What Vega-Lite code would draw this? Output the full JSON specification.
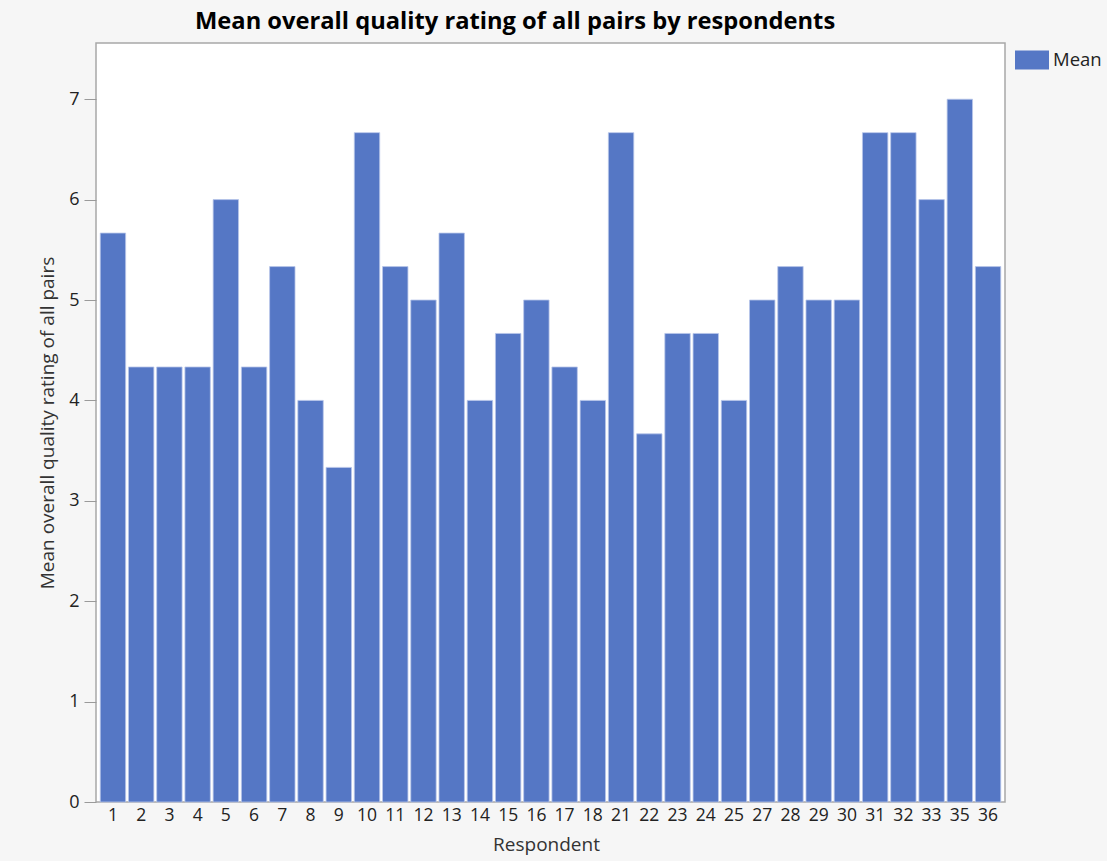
{
  "$schema": "https://vega.github.io/schema/vega-lite/v6.json",
  "autosize": {"type": "none"},
  "width": 909,
  "height": 759,
  "padding": {"left": 96, "top": 43, "right": 102, "bottom": 59},
  "background": "#f6f6f6",
  "title": {
    "text": "Mean overall quality rating of all pairs by respondents",
    "anchor": "start",
    "frame": "group",
    "dx": 99,
    "offset": 9,
    "font": "Open Sans",
    "fontSize": 23.7,
    "fontWeight": "bold",
    "color": "#000000"
  },
  "data": {
    "values": [
      {"Respondent": 1, "Mean": 5.667},
      {"Respondent": 2, "Mean": 4.333},
      {"Respondent": 3, "Mean": 4.333},
      {"Respondent": 4, "Mean": 4.333},
      {"Respondent": 5, "Mean": 6.0},
      {"Respondent": 6, "Mean": 4.333},
      {"Respondent": 7, "Mean": 5.333},
      {"Respondent": 8, "Mean": 4.0},
      {"Respondent": 9, "Mean": 3.333},
      {"Respondent": 10, "Mean": 6.667},
      {"Respondent": 11, "Mean": 5.333},
      {"Respondent": 12, "Mean": 5.0},
      {"Respondent": 13, "Mean": 5.667},
      {"Respondent": 14, "Mean": 4.0},
      {"Respondent": 15, "Mean": 4.667},
      {"Respondent": 16, "Mean": 5.0},
      {"Respondent": 17, "Mean": 4.333},
      {"Respondent": 18, "Mean": 4.0},
      {"Respondent": 21, "Mean": 6.667},
      {"Respondent": 22, "Mean": 3.667},
      {"Respondent": 23, "Mean": 4.667},
      {"Respondent": 24, "Mean": 4.667},
      {"Respondent": 25, "Mean": 4.0},
      {"Respondent": 27, "Mean": 5.0},
      {"Respondent": 28, "Mean": 5.333},
      {"Respondent": 29, "Mean": 5.0},
      {"Respondent": 30, "Mean": 5.0},
      {"Respondent": 31, "Mean": 6.667},
      {"Respondent": 32, "Mean": 6.667},
      {"Respondent": 33, "Mean": 6.0},
      {"Respondent": 35, "Mean": 7.0},
      {"Respondent": 36, "Mean": 5.333}
    ]
  },
  "mark": {"type": "bar", "stroke": "#b9c7ea", "strokeWidth": 0.8},
  "encoding": {
    "x": {
      "field": "Respondent",
      "type": "ordinal",
      "scale": {"paddingInner": 0.1, "paddingOuter": 0.15},
      "axis": {
        "title": "Respondent",
        "labelAngle": 0,
        "ticks": false,
        "domain": false,
        "labelPadding": 4,
        "labelFont": "Open Sans",
        "labelFontSize": 17.5,
        "labelColor": "#222222",
        "titleFont": "Open Sans",
        "titleFontSize": 19,
        "titleFontWeight": "normal",
        "titleColor": "#333333",
        "titlePadding": 12,
        "titleX": 450
      }
    },
    "y": {
      "field": "Mean",
      "type": "quantitative",
      "scale": {"domain": [0, 7.56], "nice": false},
      "axis": {
        "title": "Mean overall quality rating of all pairs",
        "values": [0, 1, 2, 3, 4, 5, 6, 7],
        "grid": false,
        "domain": false,
        "tickColor": "#9a9a9a",
        "tickSize": 12,
        "labelPadding": 5,
        "labelFont": "Open Sans",
        "labelFontSize": 18,
        "labelColor": "#222222",
        "titleFont": "Open Sans",
        "titleFontSize": 19,
        "titleFontWeight": "normal",
        "titleColor": "#333333",
        "titlePadding": 11
      }
    },
    "color": {
      "datum": "Mean",
      "scale": {"range": ["#5577c5"]},
      "legend": {
        "title": null,
        "orient": "right",
        "offset": 10,
        "symbolType": "M-1,-0.56H1V0.56H-1Z",
        "symbolSize": 1156,
        "symbolStrokeWidth": 0,
        "symbolOpacity": 1,
        "labelFont": "Open Sans",
        "labelFontSize": 18.5,
        "labelColor": "#222222",
        "labelOffset": 4,
        "padding": 0
      }
    }
  },
  "config": {
    "view": {"stroke": "#a8a8a8", "strokeWidth": 1.5, "fill": "#ffffff"}
  }
}
